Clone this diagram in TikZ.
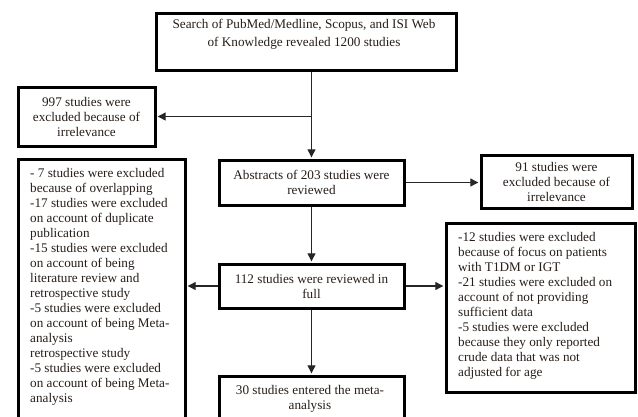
\documentclass[tikz,border=0pt]{standalone}
\usepackage{fontspec}
\setmainfont{Liberation Serif}
\usetikzlibrary{arrows.meta}
\definecolor{ink}{RGB}{40,30,25}
\begin{document}
\begin{tikzpicture}[x=1pt,y=-1pt,
  frame/.style={draw=black, line width=3pt, fill=white, inner sep=0pt, anchor=north west},
  txt/.style={inner sep=0pt, text=ink, font=\fontsize{13.2}{15}\selectfont},
  conn/.style={draw=black!85, line width=1.2pt},
  arr/.style={conn, -{Triangle[length=8pt,width=8pt]}, shorten >=1.2pt}]
\useasboundingbox (0,0) rectangle (638,416);
\clip (0,0) rectangle (638,416);
\fill[white] (0,0) rectangle (638,416);
% frames
\node[frame, minimum width=300pt, minimum height=57pt] (top) at (154.5,11.5) {};
\node[frame, minimum width=137pt, minimum height=59pt] (b997) at (16.5,85.5) {};
\node[frame, minimum width=185pt, minimum height=45pt] (abs) at (217.5,158.5) {};
\node[frame, minimum width=151pt, minimum height=53pt] (b91) at (479.5,153.5) {};
\node[frame, minimum width=185pt, minimum height=44pt] (b112) at (217.5,262.5) {};
\node[frame, minimum width=185pt, minimum height=80pt] (b30) at (217.5,374.5) {};
\node[frame, minimum width=167pt, minimum height=300pt] (left) at (16.5,157.5) {};
\node[frame, minimum width=189pt, minimum height=169pt] (right) at (444.5,221.5) {};
% connectors
\coordinate (j) at (abs.north |- b997.east);
\draw[arr] (abs.north |- top.south) -- (abs.north);
\draw[arr] (j) -- (b997.east);
\draw[arr] (abs.south) -- (b112.north);
\draw[arr] (abs.east) -- (b91.west |- abs.east);
\draw[arr] (b112.east) -- (right.west |- b112.east);
\draw[arr] (b112.west) -- (left.east |- b112.west);
\draw[arr] (b112.south) -- (b30.north);
% texts (base anchor = baseline of last line)
\node[txt, align=center, anchor=base] (ttop) at (304,46) {Search of PubMed/Medline, Scopus, and ISI Web\\[3pt]of Knowledge revealed 1200 studies};
\node[txt, align=center] (t997) at (b997.center) {997 studies were\\excluded because of\\irrelevance};
\node[txt, align=center] (tabs) at (abs.center) {Abstracts of 203 studies were\\reviewed};
\node[txt, align=center] (t91) at (b91.center) {91 studies were\\excluded because of\\irrelevance};
\node[txt, align=center] (t112) at (b112.center) {112 studies were reviewed in\\full};
\node[txt, align=center, anchor=base] (t30) at (310,409) {30 studies entered the meta-\\analysis};
\node[txt, align=left, anchor=base west] (tleft) at (30,402) {- 7 studies were excluded\\because of overlapping\\-17 studies were excluded\\on account of duplicate\\publication\\-15 studies were excluded\\on account of being\\literature review and\\retrospective study\\-5 studies were excluded\\on account of being Meta-\\analysis\\retrospective study\\-5 studies were excluded\\on account of being Meta-\\analysis};
\node[txt, align=left, anchor=base west] (tright) at (458,376) {-12 studies were excluded\\because of focus on patients\\with T1DM or IGT\\-21 studies were excluded on\\account of not providing\\sufficient data\\-5 studies were excluded\\because they only reported\\crude data that was not\\adjusted for age};
\end{tikzpicture}
\end{document}
